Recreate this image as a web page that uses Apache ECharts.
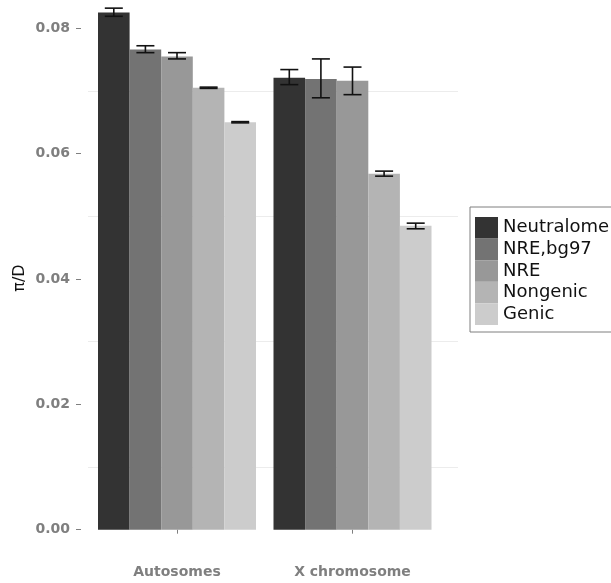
<!DOCTYPE html>
<html>
<head>
<meta charset="utf-8">
<script src="https://cdn.jsdelivr.net/npm/echarts@6/dist/echarts.min.js"></script>
<style>html,body{margin:0;padding:0;background:#fff;}#c{width:611px;height:583px;}</style>
</head>
<body>
<div id="c"></div>
<script>
var categories = ['Autosomes', 'X chromosome'];
var types = ['Neutralome', 'NRE,bg97', 'NRE', 'Nongenic', 'Genic'];
var autosomeMeans = [0.0825, 0.0766, 0.0755, 0.0705, 0.0650];
var autosomeLow   = [0.0819, 0.0761, 0.0751, 0.0704, 0.0649];
var autosomeHigh  = [0.0832, 0.0772, 0.0761, 0.0706, 0.0651];
var xMeans = [0.0721, 0.0719, 0.0716, 0.0568, 0.0485];
var xLow   = [0.0710, 0.0689, 0.0694, 0.0564, 0.0480];
var xHigh  = [0.0734, 0.0751, 0.0738, 0.0572, 0.0489];
var yTicks = [0, 0.02, 0.04, 0.06, 0.08];

var colors = ['#333333', '#737373', '#989898', '#b4b4b4', '#cccccc'];
var BAR_W = 31.6;
var gridLineColors = ['rgba(0,0,0,0)', '#ececec', 'rgba(0,0,0,0)', '#ececec', 'rgba(0,0,0,0)',
                      '#ececec', 'rgba(0,0,0,0)', '#ececec', 'rgba(0,0,0,0)', 'rgba(0,0,0,0)'];

var series = types.map(function (t, k) {
  return {
    type: 'bar', name: t, xAxisIndex: 1, yAxisIndex: 1,
    data: [autosomeMeans[k], xMeans[k]],
    barWidth: BAR_W, barGap: '0%',
    itemStyle: { color: colors[k] }
  };
});

var errData = [];
types.forEach(function (t, k) {
  errData.push([0, autosomeLow[k], autosomeHigh[k], k]);
  errData.push([1, xLow[k], xHigh[k], k]);
});

series.push({
  type: 'custom', name: 'err', xAxisIndex: 1, yAxisIndex: 1, z: 5,
  data: errData,
  renderItem: function (params, api) {
    var cat = api.value(0), k = api.value(3);
    var lo = api.coord([cat, api.value(1)]);
    var hi = api.coord([cat, api.value(2)]);
    var x = lo[0] + (k - 2) * BAR_W;
    var hw = 9;
    var st = { stroke: '#111111', lineWidth: 1.6 };
    return {
      type: 'group',
      children: [
        { type: 'line', shape: { x1: x, y1: lo[1], x2: x, y2: hi[1] }, style: st },
        { type: 'line', shape: { x1: x - hw, y1: lo[1], x2: x + hw, y2: lo[1] }, style: st },
        { type: 'line', shape: { x1: x - hw, y1: hi[1], x2: x + hw, y2: hi[1] }, style: st }
      ]
    };
  }
});

series.push({ type: 'line', xAxisIndex: 0, yAxisIndex: 0, data: [], silent: true });

var chart = echarts.init(document.getElementById('c'));
chart.setOption({
  animation: false,
  backgroundColor: '#ffffff',
  grid: [
    { left: 88, right: 153, top: 0, bottom: 53.3 },
    { left: 89.25, right: 611 - 440.25, top: 0, bottom: 27 }
  ],
  xAxis: [
    { gridIndex: 0, type: 'value', show: false, min: 0, max: 1 },
    {
      gridIndex: 1, type: 'category', data: categories, offset: 2,
      axisLine: { show: false },
      axisTick: { show: true, alignWithLabel: true, length: 4, lineStyle: { color: '#7f7f7f' } },
      axisLabel: { margin: 7, color: '#7f7f7f', fontFamily: 'DejaVu Sans', fontWeight: 'bold', fontSize: 14 },
      splitLine: { show: false }
    }
  ],
  yAxis: [
    {
      gridIndex: 0, type: 'value', min: 0, max: 0.0845, interval: 0.01,
      axisLine: { show: false }, axisTick: { show: false }, axisLabel: { show: false },
      splitLine: { show: true, showMaxLine: false, lineStyle: { color: gridLineColors, width: 1 } }
    },
    {
      gridIndex: 1, type: 'value', min: -0.0042, max: 0.0845, offset: 8.25,
      name: 'π/D', nameLocation: 'middle', nameGap: 53, nameMoveOverlap: false,
      nameTextStyle: { color: '#111', fontFamily: 'DejaVu Sans', fontSize: 16 },
      axisLine: { show: false },
      axisTick: { show: true, length: 5, customValues: yTicks, lineStyle: { color: '#7f7f7f' } },
      axisLabel: {
        show: true, margin: 11, customValues: yTicks, color: '#7f7f7f',
        fontFamily: 'DejaVu Sans', fontWeight: 'bold', fontSize: 14,
        formatter: function (v) { return v.toFixed(2); }
      },
      splitLine: { show: false }
    }
  ],
  legend: {
    data: types, orient: 'vertical', left: 470, top: 207,
    icon: 'rect', itemWidth: 23, itemHeight: 21.6, itemGap: 0,
    padding: [10, 30, 7, 5],
    borderColor: '#7f7f7f', borderWidth: 1,
    textStyle: { color: '#111', fontFamily: 'DejaVu Sans', fontSize: 18, lineHeight: 21.6 },
    selectedMode: false
  },
  series: series
});
</script>
</body>
</html>
